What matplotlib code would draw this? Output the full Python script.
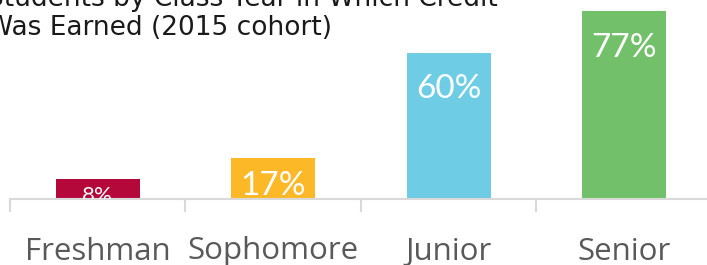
import matplotlib
matplotlib.use("Agg")
import matplotlib.pyplot as plt

# data
categories = ["Freshman", "Sophomore", "Junior", "Senior"]
values = [8, 17, 60, 77]
labels = ["8%", "17%", "60%", "77%"]
colors = ["#B5083A", "#FDB827", "#6ECDE4", "#73C06B"]

W, H = 707, 265
fig = plt.figure(figsize=(W / 100, H / 100), dpi=100)
ax = fig.add_axes([10 / W, 66 / H, 702 / W, 195.2 / H])

x = list(range(len(categories)))
ax.bar(x, values, width=0.48, color=colors, zorder=2)
ax.set_xlim(-0.5, 3.5)
ax.set_ylim(0, 80)

# value labels inside the end of each bar, small bars get a smaller font
for xi, v, lab in zip(x, values, labels):
    size = 24 if v > 12 else 16
    gap = min(9, 0.33 * v)
    digit_h = 9.8 * size / 24
    ax.text(xi, v - gap - digit_h, lab, ha="center", va="baseline",
            color="white", fontsize=size, family="Lato", clip_on=True, zorder=3)

for s in ["top", "right", "left"]:
    ax.spines[s].set_visible(False)
ax.spines["bottom"].set_color("#d9d9d9")
ax.spines["bottom"].set_linewidth(1.5)
ax.set_yticks([])

ax.set_xticks(x)
ax.set_xticklabels(categories, family="Open Sans", fontsize=22.5, color="#595959")
ax.tick_params(axis="x", which="major", length=0, pad=27)
ax.set_xticks([-0.5, 0.5, 1.5, 2.5, 3.5], minor=True)
ax.tick_params(axis="x", which="minor", length=9, width=1.5, color="#d9d9d9")

# title, partly cut off at the left/top edge like the reference
fig.text(-13 / W, (H - 6) / H, "Students by Class Year in Which Credit",
         fontsize=19, family="DejaVu Sans", color="#1a1a1a", va="baseline")
fig.text(-13 / W, (H - 35) / H, "Was Earned (2015 cohort)",
         fontsize=19, family="DejaVu Sans", color="#1a1a1a", va="baseline")

fig.savefig("out.png", dpi=100)
